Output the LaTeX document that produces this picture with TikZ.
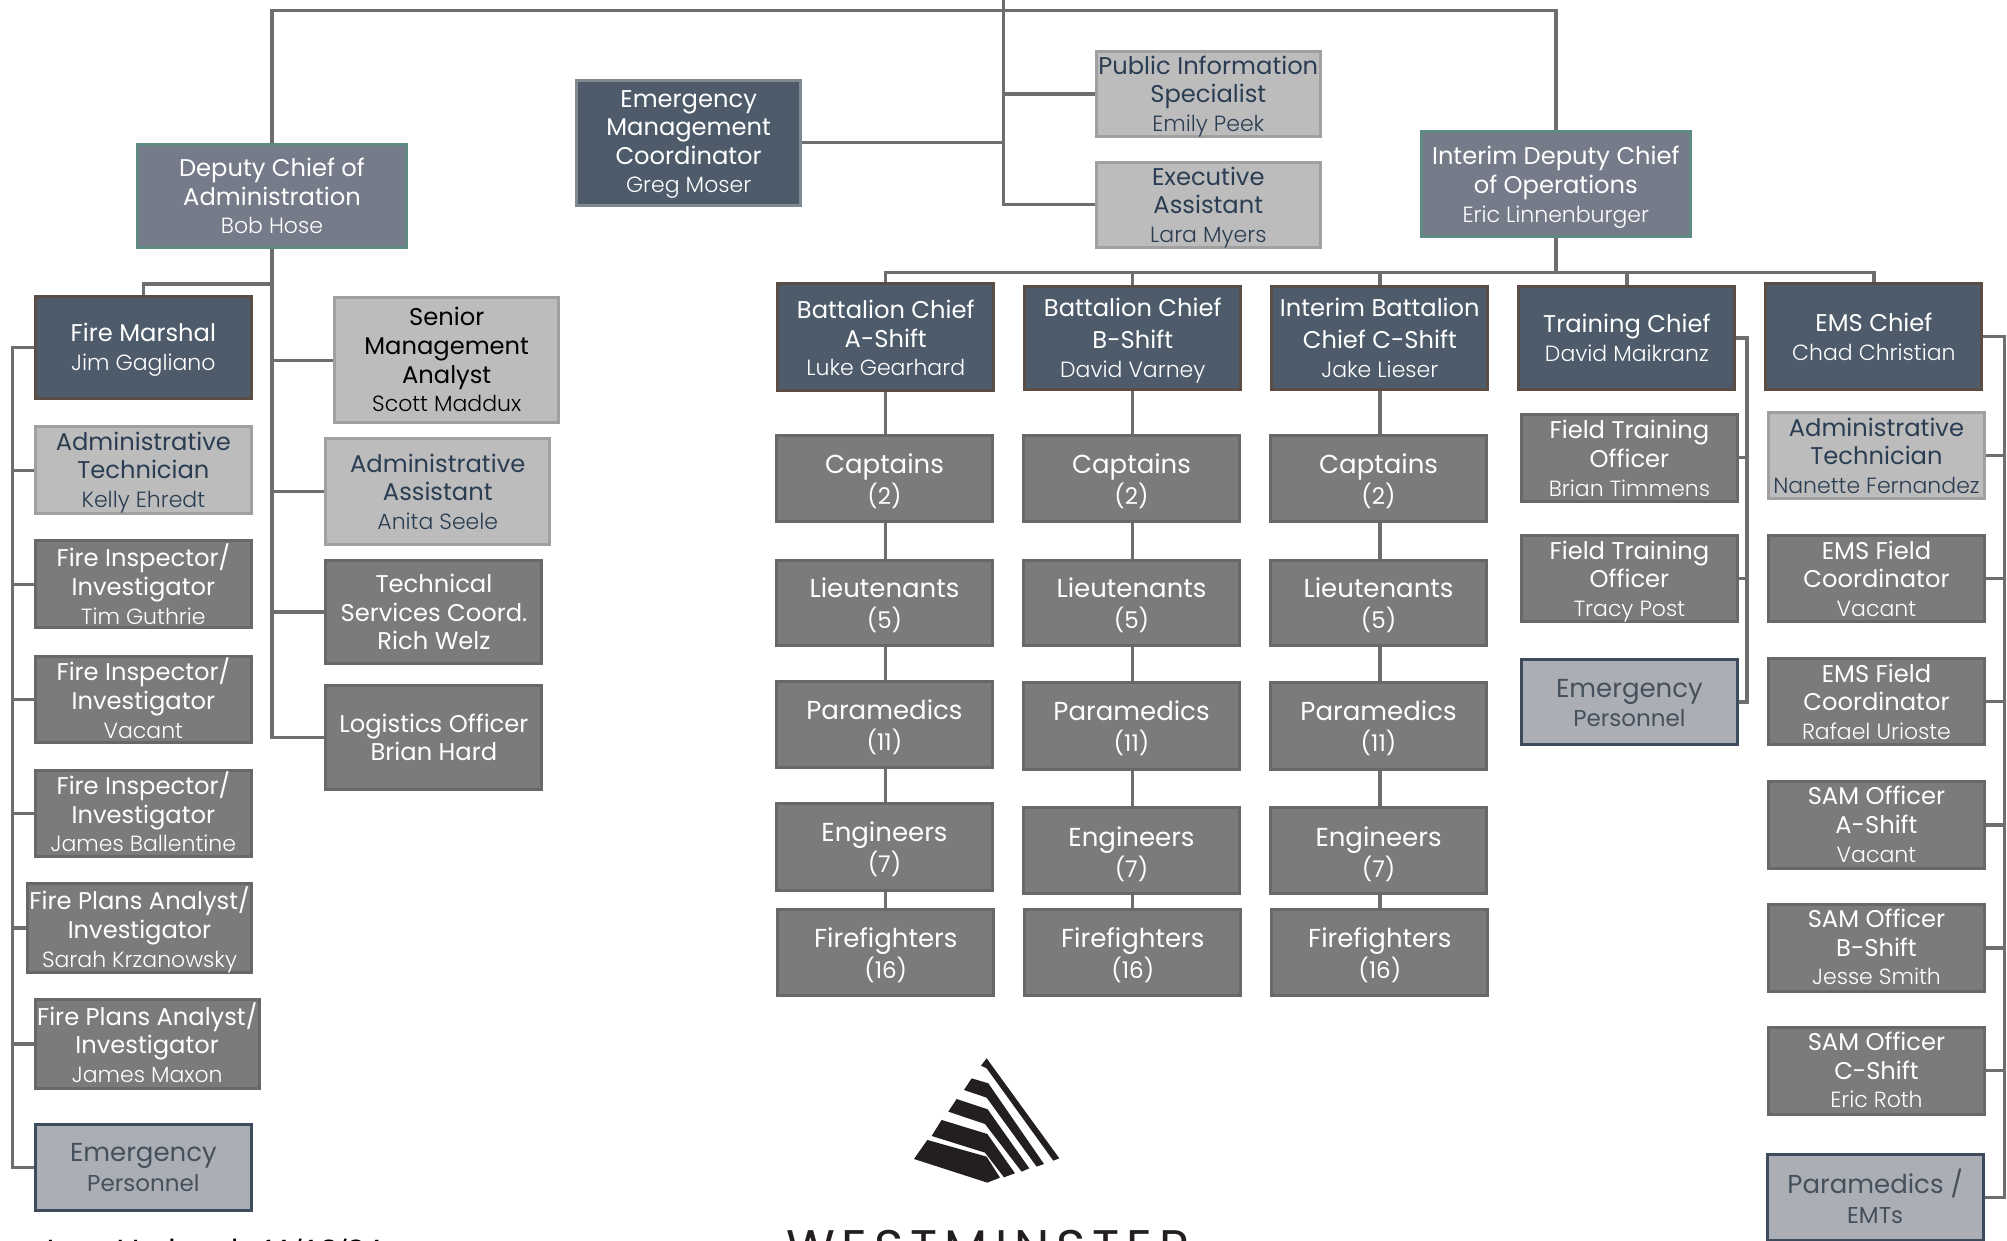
\documentclass[tikz,border=0pt]{standalone}
\usepackage{fontspec}
\usetikzlibrary{backgrounds}
\setmainfont{Poppins}
\newfontfamily\lightf{Poppins Light}
\newfontfamily\lastf{Liberation Sans}
\newfontfamily\westf[LetterSpace=14]{Poppins}
\definecolor{lineC}{HTML}{6E6E6E}
\definecolor{depF}{HTML}{767B8A}\definecolor{depB}{HTML}{5F8A82}
\definecolor{darkF}{HTML}{4D5B6B}\definecolor{darkB}{HTML}{5B4C44}
\definecolor{emcB}{HTML}{808890}
\definecolor{ltF}{HTML}{BCBCBC}\definecolor{ltB}{HTML}{A0A0A0}\definecolor{ltT}{HTML}{2A3D52}
\definecolor{gyF}{HTML}{7B7B7B}\definecolor{gyB}{HTML}{686868}
\definecolor{epF}{HTML}{ABAFB5}\definecolor{epB}{HTML}{3D4C5C}\definecolor{epT}{HTML}{46505C}
\definecolor{logoC}{HTML}{231F20}
\newcommand{\tlfont}{\fontsize{24.2}{28.6}\selectfont}
\newcommand{\nm}{\lightf\fontsize{22}{28.6}\selectfont}
\newcommand{\bgf}{\fontsize{26}{28.6}\selectfont}
\newcommand{\smf}{\fontsize{23}{28.6}\selectfont}
\setlength{\tabcolsep}{0pt}
\tikzset{
 bxbase/.style={rectangle,draw,line width=3pt,inner sep=0pt,outer sep=0pt,font=\tlfont,align=center},
 depbox/.style={bxbase,fill=depF,draw=depB,text=white},
 darkbox/.style={bxbase,fill=darkF,draw=darkB,text=white},
 emcbox/.style={bxbase,fill=darkF,draw=emcB,text=white},
 ltbox/.style={bxbase,fill=ltF,draw=ltB,text=ltT},
 blkbox/.style={bxbase,fill=ltF,draw=ltB,text=black},
 gybox/.style={bxbase,fill=gyF,draw=gyB,text=white},
 epbox/.style={bxbase,fill=epF,draw=epB,text=epT},
 conn/.style={draw=lineC,line width=3.4pt,line join=miter},
 lastnote/.style={inner sep=0pt,anchor=base west,font=\lastf\fontsize{32.3}{32}\selectfont,text=black},
 westnote/.style={inner sep=0pt,anchor=base west,font=\westf\fontsize{50}{50}\selectfont,text=logoC},
}
% style, name, x0,y0,x1,y1, text centre y, rows
\newcommand{\bx}[8]{%
 \pgfmathsetmacro\bxCx{(#3+#5)/2}\pgfmathsetmacro\bxCy{(#4+#6)/2}%
 \pgfmathsetmacro\bxW{(#5-#3)*1.28-1.5}\pgfmathsetmacro\bxH{(#6-#4)*1.28-1.5}%
 \pgfmathsetmacro\bxD{(\bxCy-#7)*1.28-9.7}%
 \node[#1,minimum width=\bxW pt,minimum height=\bxH pt] (#2) at (\bxCx,\bxCy)
  {\makebox[0pt]{\raisebox{\bxD pt}[0pt][0pt]{\begin{tabular}{c}#8\end{tabular}}}};}
\begin{document}
\begin{tikzpicture}[x=1.28pt,y=-1.28pt]
\useasboundingbox (0,0) rectangle (1568,969.53);
\clip (0,0) rectangle (1568,969.53);
% boxes
\bx{depbox}{dep}{107}{112}{318}{194}{153}{Deputy Chief of\\Administration\\\nm Bob Hose}
\bx{depbox}{ido}{1110}{102}{1321}{185}{144}{Interim Deputy Chief\\of Operations\\\nm Eric Linnenburger}
\bx{emcbox}{emc}{450}{62}{626}{161}{110}{Emergency\\Management\\Coordinator\\\nm Greg Moser}
\bx{ltbox}{pis}{856}{40}{1032}{107}{73}{Public Information\\Specialist\\\nm Emily Peek}
\bx{ltbox}{ea}{856}{126}{1032}{194}{160}{Executive\\Assistant\\\nm Lara Myers}
% left column
\bx{darkbox}{fm}{27}{231}{197}{312}{271}{Fire Marshal\\\nm Jim Gagliano}
\bx{ltbox}{at}{27}{333}{197}{402}{367}{Administrative\\Technician\\\nm Kelly Ehredt}
\bx{gybox}{fia}{27}{422}{197}{491}{457}{Fire Inspector/\\Investigator\\\nm Tim Guthrie}
\bx{gybox}{fib}{27}{512}{197}{581}{546}{Fire Inspector/\\Investigator\\\nm Vacant}
\bx{gybox}{fic}{27}{601}{197}{670}{635}{Fire Inspector/\\Investigator\\\nm James Ballentine}
\bx{gybox}{fpa}{21}{690}{197}{760}{725}{Fire Plans Analyst/\\Investigator\\\nm Sarah Krzanowsky}
\bx{gybox}{fpb}{27}{780}{203}{851}{815}{Fire Plans Analyst/\\Investigator\\\nm James Maxon}
\bx{epbox}{epl}{27}{878}{197}{946}{912}{\bgf Emergency\\[1pt]\smf Personnel}
% second column
\bx{blkbox}{sen}{261}{232}{437}{331}{281}{Senior\\Management\\Analyst\\\nm Scott Maddux}
\bx{ltbox}{aa}{254}{342}{430}{426}{384}{Administrative\\Assistant\\\nm Anita Seele}
\bx{gybox}{ts}{254}{437}{424}{519}{478}{Technical\\Services Coord.\\Rich Welz}
\bx{gybox}{lo}{254}{535}{424}{617}{576}{Logistics Officer\\Brian Hard}
% chiefs
\bx{darkbox}{bca}{607}{221}{777}{306}{264}{Battalion Chief\\A-Shift\\\nm Luke Gearhard}
\bx{darkbox}{bcb}{800}{223}{970}{305}{264}{Battalion Chief\\[3pt]B-Shift\\[1pt]\nm David Varney}
\bx{darkbox}{bcc}{993}{223}{1163}{305}{264}{Interim Battalion\\[3pt]Chief C-Shift\\[1pt]\nm Jake Lieser}
\bx{darkbox}{tc}{1186}{223}{1356}{305}{264}{Training Chief\\\nm David Maikranz}
\bx{darkbox}{ec}{1379}{221}{1549}{305}{263}{EMS Chief\\\nm Chad Christian}
% shift A
\bx{gybox}{capa}{606}{340}{776}{408}{375}{\bgf Captains\\[1pt]\smf (2)}
\bx{gybox}{lta}{606}{437}{776}{505}{472}{\bgf Lieutenants\\[1pt]\smf (5)}
\bx{gybox}{para}{606}{532}{776}{600}{567}{\bgf Paramedics\\[1pt]\smf (11)}
\bx{gybox}{enga}{606}{627}{776}{696}{662.5}{\bgf Engineers\\[1pt]\smf (7)}
\bx{gybox}{ffa}{607}{710}{777}{778}{745}{\bgf Firefighters\\[1pt]\smf (16)}
% shift B
\bx{gybox}{capb}{799}{340}{969}{408}{375}{\bgf Captains\\[1pt]\smf (2)}
\bx{gybox}{ltb}{799}{437}{969}{505}{472}{\bgf Lieutenants\\[1pt]\smf (5)}
\bx{gybox}{parb}{799}{533}{969}{602}{568}{\bgf Paramedics\\[1pt]\smf (11)}
\bx{gybox}{engb}{799}{630}{969}{699}{666}{\bgf Engineers\\[1pt]\smf (7)}
\bx{gybox}{ffb}{800}{710}{970}{778}{745}{\bgf Firefighters\\[1pt]\smf (16)}
% shift C
\bx{gybox}{capc}{992}{340}{1162}{408}{375}{\bgf Captains\\[1pt]\smf (2)}
\bx{gybox}{ltc}{992}{437}{1162}{505}{472}{\bgf Lieutenants\\[1pt]\smf (5)}
\bx{gybox}{parc}{992}{533}{1162}{602}{568}{\bgf Paramedics\\[1pt]\smf (11)}
\bx{gybox}{engc}{992}{630}{1162}{699}{666}{\bgf Engineers\\[1pt]\smf (7)}
\bx{gybox}{ffc}{993}{710}{1163}{778}{745}{\bgf Firefighters\\[1pt]\smf (16)}
% training
\bx{gybox}{fta}{1188}{323}{1358}{392}{358}{Field Training\\Officer\\\nm Brian Timmens}
\bx{gybox}{ftb}{1188}{418}{1358}{486}{452}{Field Training\\Officer\\\nm Tracy Post}
\bx{epbox}{ept}{1188}{515}{1358}{582}{549}{\bgf Emergency\\[1pt]\smf Personnel}
% EMS
\bx{ltbox}{eat}{1381}{322}{1551}{390}{356}{Administrative\\Technician\\\nm Nanette Fernandez}
\bx{gybox}{efa}{1381}{418}{1551}{486}{452}{EMS Field\\Coordinator\\\nm Vacant}
\bx{gybox}{efb}{1381}{514}{1551}{582}{548}{EMS Field\\Coordinator\\\nm Rafael Urioste}
\bx{gybox}{saa}{1381}{610}{1551}{679}{644}{SAM Officer\\A-Shift\\\nm Vacant}
\bx{gybox}{sab}{1381}{706}{1551}{775}{740}{SAM Officer\\B-Shift\\\nm Jesse Smith}
\bx{gybox}{sac}{1381}{802}{1551}{871}{836}{SAM Officer\\C-Shift\\\nm Eric Roth}
\bx{epbox}{pem}{1380}{901}{1550}{970}{935}{\bgf Paramedics /\\[1pt]\smf EMTs}
% junction coordinates
\coordinate (topc) at (784,0);
\coordinate (bar) at (784,8);
\coordinate (dj) at (212.5,222);
\coordinate (ltk) at (10,300);
\coordinate (rb) at (1215.5,213);
\coordinate (ttk) at (1365,300);
\coordinate (etk) at (1566,300);
% connectors
\begin{scope}[on background layer]
\draw[conn] (dep.north) -- (dep.north|-bar) -- (ido.north|-bar) -- (ido.north);
\draw[conn] (topc) |- (ea.west);
\draw[conn] (pis.west) -- (topc|-pis.west);
\draw[conn] (emc.east) -- (topc|-emc.east);
\draw[conn] (dep.south) |- (lo.west);
\draw[conn] (fm.north) |- (dj);
\foreach \b in {sen,aa,ts} \draw[conn] (\b.west) -- (dep.south|-\b.west);
\draw[conn] (fm.west) -- (ltk|-fm.west) -- (ltk|-epl.west) -- (epl.west);
\foreach \b in {at,fia,fib,fic,fpa,fpb} \draw[conn] (\b.west) -- (ltk|-\b.west);
\draw[conn] (ido.south) -- (rb);
\draw[conn] (bca.north) -- (bca.north|-rb) -- (ec.north|-rb) -- (ec.north);
\foreach \b in {bcb,bcc,tc} \draw[conn] (\b.north) -- (\b.north|-rb);
\draw[conn] (bca.south) -- (bca.south|-ffa.north);
\draw[conn] (bcb.south) -- (bcb.south|-ffb.north);
\draw[conn] (bcc.south) -- (bcc.south|-ffc.north);
\draw[conn] (tc.east) -- (ttk|-tc.east) -- (ttk|-ept.east) -- (ept.east);
\foreach \b in {fta,ftb} \draw[conn] (\b.east) -- (ttk|-\b.east);
\draw[conn] (ec.east) -- (etk|-ec.east) -- (etk|-pem.east) -- (pem.east);
\foreach \b in {eat,efa,efb,saa,sab,sac} \draw[conn] (\b.east) -- (etk|-\b.east);
\end{scope}
% logo
\begin{scope}[shift={(890pt,-1050pt)},x=0.3333pt,y=-0.3333pt,fill=logoC]
\fill (290,25)--(273,47)--(290,55)--(490,332)--(508,325)--cycle;
\fill (245,85)--(222,120)--(290,143)--(440,350)--(462,342)--(295,100)--cycle;
\fill (200,147)--(175,185)--(285,222)--(395,365)--(418,355)--(293,178)--cycle;
\fill (155,210)--(125,258)--(285,308)--(342,382)--(375,370)--(292,252)--cycle;
\fill (112,270)--(72,327)--(292,398)--(330,383)--(290,320)--cycle;
\end{scope}
\node[westnote] (west) at (614,989) {WESTMINSTER};
\node[lastnote] (last) at (36,986) {Last Updated: 11/12/24};
\end{tikzpicture}
\end{document}
